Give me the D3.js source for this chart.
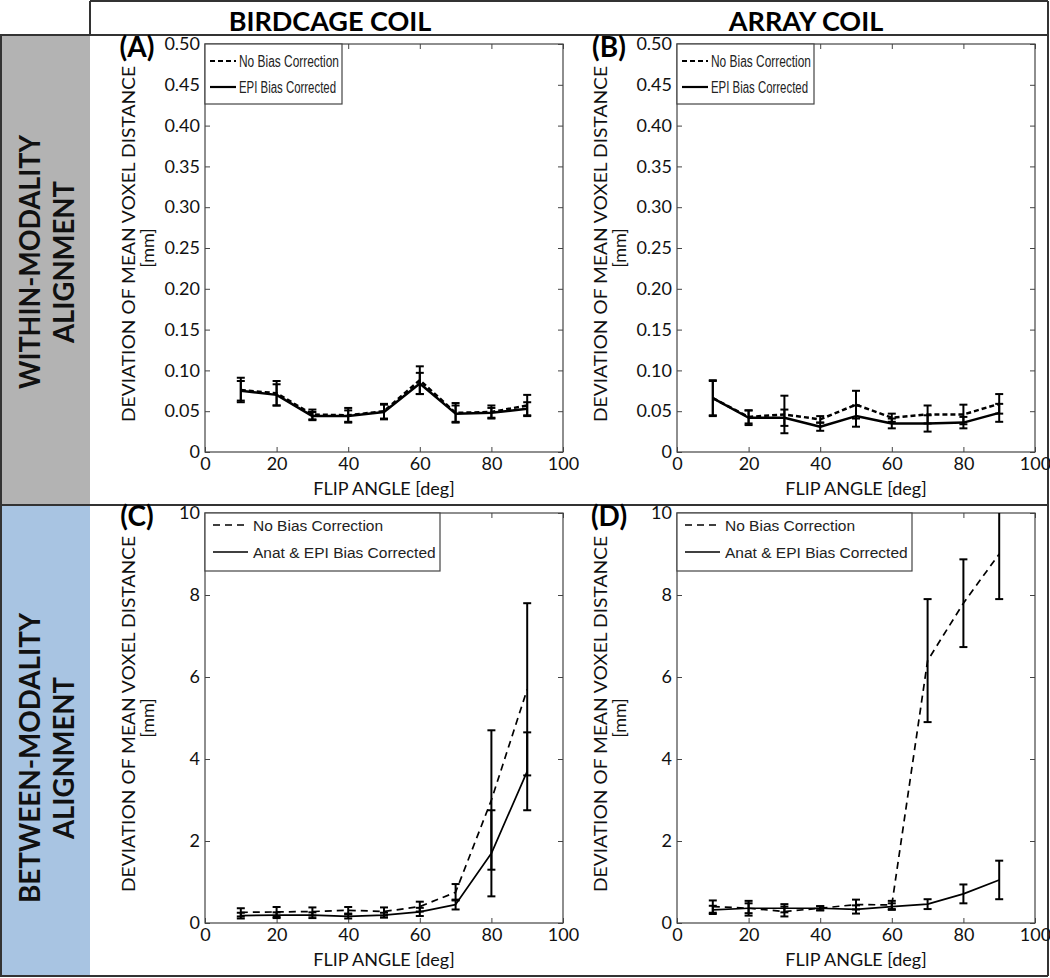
<!DOCTYPE html>
<html><head><meta charset="utf-8">
<script src="https://cdn.jsdelivr.net/npm/d3@7"></script>
<style>body{margin:0;background:#fff} svg{display:block}</style>
</head><body>
<svg id="c" width="1050" height="978"></svg>
<script>
// ---------- data ----------
const flipAngles = [10, 20, 30, 40, 50, 60, 70, 80, 90];
const xTicks = [0, 20, 40, 60, 80, 100];
const withinTicks = [0, 0.05, 0.10, 0.15, 0.20, 0.25, 0.30, 0.35, 0.40, 0.45, 0.50];
const betweenTicks = [0, 2, 4, 6, 8, 10];
const columnTitles = ["BIRDCAGE COIL", "ARRAY COIL"];
const rowTitlesWithin = ["WITHIN-MODALITY", "ALIGNMENT"];
const rowTitlesBetween = ["BETWEEN-MODALITY", "ALIGNMENT"];
const panelLabels = ["(A)", "(B)", "(C)", "(D)"];
const withinLegend = ["No Bias Correction", "EPI Bias Corrected"];
const betweenLegend = ["No Bias Correction", "Anat & EPI Bias Corrected"];
const xLabel = "FLIP ANGLE [deg]";
const yLabelLines = ["DEVIATION OF MEAN VOXEL DISTANCE", "[mm]"];

// (A) birdcage, within-modality
const aNoBias    = [0.076, 0.072, 0.046, 0.045, 0.050, 0.088, 0.048, 0.049, 0.057];
const aNoBiasErr = [0.015, 0.015, 0.006, 0.009, 0.009, 0.017, 0.012, 0.008, 0.013];
const aCorr      = [0.075, 0.070, 0.044, 0.044, 0.049, 0.084, 0.047, 0.048, 0.053];
const aCorrErr   = [0.012, 0.013, 0.005, 0.007, 0.009, 0.013, 0.010, 0.006, 0.008];
// (B) array, within-modality
const bNoBias    = [0.066, 0.043, 0.046, 0.040, 0.058, 0.042, 0.046, 0.046, 0.059];
const bNoBiasErr = [0.022, 0.008, 0.023, 0.004, 0.017, 0.005, 0.011, 0.012, 0.012];
const bCorr      = [0.066, 0.042, 0.042, 0.031, 0.044, 0.035, 0.035, 0.036, 0.048];
const bCorrErr   = [0.021, 0.009, 0.010, 0.005, 0.013, 0.006, 0.010, 0.007, 0.011];
// (C) birdcage, between-modality
const cNoBias    = [0.26, 0.27, 0.28, 0.31, 0.28, 0.40, 0.75, 3.0, 5.7];
const cNoBiasErr = [0.10, 0.12, 0.10, 0.08, 0.10, 0.12, 0.20, 1.7, 2.1];
const cCorr      = [0.18, 0.19, 0.19, 0.16, 0.19, 0.27, 0.45, 1.7, 3.7];
const cCorrErr   = [0.07, 0.07, 0.07, 0.05, 0.06, 0.10, 0.12, 1.05, 0.95];
// (D) array, between-modality
const dNoBias    = [0.40, 0.36, 0.28, 0.36, 0.45, 0.44, 6.4, 7.8, 9.0];
const dNoBiasErr = [0.15, 0.18, 0.12, 0.05, 0.12, 0.10, 1.5, 1.07, 1.1];
const dCorr      = [0.32, 0.36, 0.36, 0.36, 0.33, 0.40, 0.46, 0.71, 1.05];
const dCorrErr   = [0.10, 0.12, 0.10, 0.05, 0.10, 0.08, 0.12, 0.23, 0.47];

// ---------- drawing ----------
const svg = d3.select("#c");
const FONT = "Lato, 'Open Sans', sans-serif";
const LEGFONT = "'Liberation Sans', Arial, sans-serif";

// side bands
svg.append("rect").attr("x", 1).attr("y", 35).attr("width", 89).attr("height", 470).attr("fill", "#b3b3b3");
svg.append("rect").attr("x", 1).attr("y", 505).attr("width", 89).attr("height", 471).attr("fill", "#a8c4e2");

// frame lines
const lines = [
  [90, 1, 1048, 1], [90, 1, 90, 35], [0, 35, 1048, 35], [1048, 1, 1048, 976],
  [1, 35, 1, 976], [0, 505, 1048, 505], [0, 976, 1048, 976]
];
svg.append("g").selectAll("line").data(lines).join("line")
  .attr("x1", d => d[0]).attr("y1", d => d[1]).attr("x2", d => d[2]).attr("y2", d => d[3])
  .attr("stroke", "#333").attr("stroke-width", 2);

// column titles
svg.append("g").selectAll("text").data(columnTitles).join("text")
  .attr("x", (d, i) => [330, 806][i]).attr("y", 20)
  .attr("text-anchor", "middle").attr("dominant-baseline", "central")
  .attr("font-family", FONT).attr("font-weight", 700).attr("font-size", 27)
  .attr("fill", "#000").text(d => d);

// row titles
function rowTitle(lns, cy, lens) {
  lns.forEach((t, i) => {
    svg.append("text")
      .attr("transform", `translate(${[29, 63][i]},${cy}) rotate(-90)`)
      .attr("text-anchor", "middle").attr("dominant-baseline", "central")
      .attr("font-family", FONT).attr("font-weight", 700).attr("font-size", 28)
      .attr("textLength", lens[i]).attr("lengthAdjust", "spacingAndGlyphs")
      .attr("fill", "#111").text(t);
  });
}
rowTitle(rowTitlesWithin, 262, [254, 162]);
rowTitle(rowTitlesBetween, 758, [290, 162]);

function panel(p) {
  const x = d3.scaleLinear().domain([0, 100]).range([p.left, p.right]);
  const y = d3.scaleLinear().domain([0, p.max]).range([p.bottom, p.top]);
  const g = svg.append("g");
  const clipId = "clip" + p.id;
  svg.append("clipPath").attr("id", clipId).append("rect")
    .attr("x", p.left).attr("y", p.top).attr("width", p.right - p.left).attr("height", p.bottom - p.top);

  const styleAxis = sel => {
    sel.select(".domain").remove();
    sel.selectAll(".tick line").attr("stroke", "#444").attr("stroke-width", 1);
    sel.selectAll(".tick text").attr("font-family", FONT).attr("font-size", 18).attr("fill", "#111");
  };
  g.append("g").attr("transform", `translate(0,${p.bottom})`)
    .call(d3.axisBottom(x).tickValues(xTicks).tickSizeInner(-5).tickSizeOuter(0).tickPadding(5).tickFormat(d3.format("d")))
    .call(styleAxis);
  g.append("g").attr("transform", `translate(0,${p.top})`)
    .call(d3.axisTop(x).tickValues(xTicks).tickSizeInner(-5).tickSizeOuter(0).tickFormat(""))
    .call(styleAxis);
  g.append("g").attr("transform", `translate(${p.left},0)`)
    .call(d3.axisLeft(y).tickValues(p.ticks).tickSizeInner(-5).tickSizeOuter(0).tickPadding(5).tickFormat(p.fmt))
    .call(styleAxis);
  g.append("g").attr("transform", `translate(${p.right},0)`)
    .call(d3.axisRight(y).tickValues(p.ticks).tickSizeInner(-5).tickSizeOuter(0).tickFormat(""))
    .call(styleAxis);
  g.append("rect").attr("x", p.left).attr("y", p.top).attr("width", p.right - p.left).attr("height", p.bottom - p.top)
    .attr("fill", "none").attr("stroke", "#444").attr("stroke-width", 1.2);

  // axis labels
  g.append("text").attr("x", (p.left + p.right) / 2).attr("y", p.bottom + 36)
    .attr("text-anchor", "middle").attr("dominant-baseline", "central")
    .attr("font-family", FONT).attr("font-size", 18).attr("fill", "#111").text(xLabel);
  const cy = (p.top + p.bottom) / 2;
  g.append("text").attr("transform", `translate(${p.left - 77},${cy - 4}) rotate(-90)`)
    .attr("text-anchor", "middle").attr("dominant-baseline", "central")
    .attr("font-family", FONT).attr("font-size", 17).attr("fill", "#111")
    .attr("textLength", 356).attr("lengthAdjust", "spacingAndGlyphs").text(yLabelLines[0]);
  g.append("text").attr("transform", `translate(${p.left - 58},${cy}) rotate(-90)`)
    .attr("text-anchor", "middle").attr("dominant-baseline", "central")
    .attr("font-family", FONT).attr("font-size", 18).attr("fill", "#111").text(yLabelLines[1]);
  // panel label
  g.append("text").attr("x", p.left - 68).attr("y", p.top + 2)
    .attr("text-anchor", "middle").attr("dominant-baseline", "central")
    .attr("font-family", FONT).attr("font-weight", 700).attr("font-size", 28)
    .attr("fill", "#000").text(p.label);

  // data
  const plot = g.append("g").attr("clip-path", `url(#${clipId})`);
  const line = d3.line().x((d, i) => x(flipAngles[i])).y(d => y(d));
  p.series.forEach(s => {
    plot.append("path").datum(s.values).attr("d", line)
      .attr("fill", "none").attr("stroke", "#000").attr("stroke-width", p.lw)
      .attr("stroke-dasharray", s.dashed ? p.dash : null).attr("stroke-linejoin", "round");
    const eb = plot.append("g").attr("stroke", "#000").attr("stroke-width", 2);
    s.values.forEach((v, i) => {
      const xx = x(flipAngles[i]);
      const lo = y(v - s.err[i]), hi = y(v + s.err[i]);
      eb.append("line").attr("x1", xx).attr("x2", xx).attr("y1", lo).attr("y2", hi);
      eb.append("line").attr("x1", xx - 4).attr("x2", xx + 4).attr("y1", lo).attr("y2", lo);
      eb.append("line").attr("x1", xx - 4).attr("x2", xx + 4).attr("y1", hi).attr("y2", hi);
    });
  });

  // legend
  const L = p.legend;
  const lg = g.append("g");
  lg.append("rect").attr("x", p.left).attr("y", p.top).attr("width", L.w).attr("height", L.h)
    .attr("fill", "#fff").attr("stroke", "#444").attr("stroke-width", 1.2);
  L.labels.forEach((t, i) => {
    const yy = p.top + L.rows[i];
    lg.append("line").attr("x1", p.left + L.l0).attr("x2", p.left + L.l1).attr("y1", yy).attr("y2", yy)
      .attr("stroke", "#000").attr("stroke-width", L.lw)
      .attr("stroke-dasharray", i === 0 ? L.dash : null);
    const tx = lg.append("text").attr("x", p.left + L.tx).attr("y", yy)
      .attr("dominant-baseline", "central")
      .attr("font-family", LEGFONT).attr("font-size", L.fs).attr("fill", "#222").text(t);
    if (L.tl) tx.attr("textLength", L.tl[i]).attr("lengthAdjust", "spacingAndGlyphs");
  });
}

const fmtWithin = d => d === 0 ? "0" : d3.format(".2f")(d);
const fmtBetween = d3.format("d");
const legWithin = { w: 137, h: 60, rows: [17, 43], l0: 5, l1: 31, tx: 34, fs: 16, lw: 2.2, dash: "5,3", labels: withinLegend, tl: [100, 97] };
const legBetween = { w: 235, h: 58, rows: [12, 39], l0: 8, l1: 43, tx: 48, fs: 15.5, lw: 1.6, dash: "7,5", labels: betweenLegend };

panel({ id: "A", label: panelLabels[0], left: 205, right: 563, top: 44, bottom: 452, max: 0.5, ticks: withinTicks, fmt: fmtWithin,
  lw: 2.5, dash: "5,3", legend: legWithin,
  series: [{ values: aNoBias, err: aNoBiasErr, dashed: true }, { values: aCorr, err: aCorrErr, dashed: false }] });
panel({ id: "B", label: panelLabels[1], left: 677, right: 1035, top: 44, bottom: 452, max: 0.5, ticks: withinTicks, fmt: fmtWithin,
  lw: 2.5, dash: "5,3", legend: legWithin,
  series: [{ values: bNoBias, err: bNoBiasErr, dashed: true }, { values: bCorr, err: bCorrErr, dashed: false }] });
panel({ id: "C", label: panelLabels[2], left: 205, right: 563, top: 513, bottom: 923, max: 10, ticks: betweenTicks, fmt: fmtBetween,
  lw: 1.7, dash: "7,5", legend: legBetween,
  series: [{ values: cNoBias, err: cNoBiasErr, dashed: true }, { values: cCorr, err: cCorrErr, dashed: false }] });
panel({ id: "D", label: panelLabels[3], left: 677, right: 1035, top: 513, bottom: 923, max: 10, ticks: betweenTicks, fmt: fmtBetween,
  lw: 1.7, dash: "7,5", legend: legBetween,
  series: [{ values: dNoBias, err: dNoBiasErr, dashed: true }, { values: dCorr, err: dCorrErr, dashed: false }] });
</script>
</body></html>
